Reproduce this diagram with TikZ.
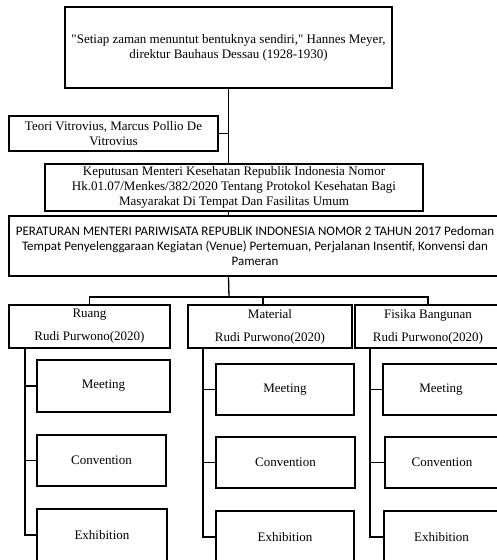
\documentclass[tikz,border=0pt]{standalone}
\usepackage{fontspec}
\setmainfont{Liberation Serif}
\newfontfamily\calibri{Carlito}

\begin{document}
\begin{tikzpicture}[x=1pt,y=-1pt,
  box/.style={draw,line width=1.3pt,fill=white,align=center,inner sep=0pt,font=\fontsize{13}{15}\selectfont},
  link/.style={line width=1.3pt}]
\useasboundingbox (0,0) rectangle (497,560);
\clip (0,0) rectangle (497,560);
\node [box,minimum width=327pt,minimum height=81pt] (quote) at (228.5,47.5) {\textquotedbl Setiap zaman menuntut bentuknya sendiri,\textquotedbl\ Hannes Meyer,\\direktur Bauhaus Dessau (1928-1930)};
\node [box,minimum width=209pt,minimum height=35pt] (teori) at (113.5,133.5) {Teori Vitrovius, Marcus Pollio De\\Vitrovius};
\node [box,minimum width=378pt,minimum height=47pt] (kepmen) at (234,187.5) {Keputusan Menteri Kesehatan Republik Indonesia Nomor\\Hk.01.07/Menkes/382/2020 Tentang Protokol Kesehatan Bagi\\Masyarakat Di Tempat Dan Fasilitas Umum};
\node [box,minimum width=492pt,minimum height=60pt,font=\calibri\fontsize{13}{15}\selectfont] (permen) at (255,246) {PERATURAN MENTERI PARIWISATA REPUBLIK INDONESIA NOMOR 2 TAHUN 2017 Pedoman\\Tempat Penyelenggaraan Kegiatan (Venue) Pertemuan, Perjalanan Insentif, Konvensi dan\\Pameran};
\draw [link] (quote.south) -- (quote.south |- kepmen.north);
\draw [link] (teori.east) -- (teori.east -| quote.south);
\draw [link] (quote.south |- kepmen.south) -- (quote.south |- permen.north);

\node [box,minimum width=161pt,minimum height=43pt] (ruang) at (89.5,326.5) {Ruang\\[8pt]Rudi Purwono(2020)};
\node [box,minimum width=164pt,minimum height=43pt] (material) at (270,326.5) {Material\\[8pt]Rudi Purwono(2020)};
\node [box,minimum width=146pt,minimum height=43pt] (fisika) at (428,326.5) {Fisika Bangunan\\[8pt]Rudi Purwono(2020)};
\coordinate (fork) at (229,297);
\draw [link] (quote.south |- permen.south) -- (fork);
\draw [link] (fork) -| (ruang.north);
\draw [link] (fork) -| ([xshift=-7pt]material.north);
\draw [link] (fork) -| (fisika.north);

\node [box,minimum width=133pt,minimum height=52pt] (rmeet) at (103.5,386) {Meeting};
\node [box,minimum width=129pt,minimum height=51pt] (rconv) at (101.5,460.5) {Convention};
\node [box,minimum width=130pt,minimum height=52pt] (rexhib) at (102,535) {Exhibition};
\coordinate (rspine) at (25,348);
\draw [link] (rspine) |- (rexhib.west);
\draw [link] (rspine |- rmeet.west) -- (rmeet.west);
\draw [link] (rspine |- rconv.west) -- (rconv.west);

\node [box,minimum width=138pt,minimum height=51pt] (mmeet) at (285,389.5) {Meeting};
\node [box,minimum width=139pt,minimum height=51pt] (mconv) at (285.5,462.5) {Convention};
\node [box,minimum width=138pt,minimum height=52pt] (mexhib) at (285,537) {Exhibition};
\coordinate (mspine) at (203,348);
\draw [link] (mspine) |- (mexhib.west);
\draw [link] (mspine |- mmeet.west) -- (mmeet.west);
\draw [link] (mspine |- mconv.west) -- (mconv.west);

\node [box,minimum width=116pt,minimum height=51pt] (fmeet) at (441,389.5) {Meeting};
\node [box,minimum width=114pt,minimum height=51pt] (fconv) at (442,462.5) {Convention};
\node [box,minimum width=115pt,minimum height=52pt] (fexhib) at (441.5,537) {Exhibition};
\coordinate (fspine) at (370,348);
\draw [link] (fspine) |- (fexhib.west);
\draw [link] (fspine |- fmeet.west) -- (fmeet.west);
\draw [link] (fspine |- fconv.west) -- (fconv.west);
\end{tikzpicture}
\end{document}
